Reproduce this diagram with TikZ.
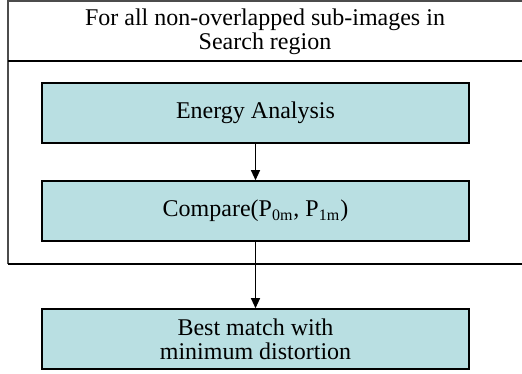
\documentclass[tikz,border=0pt]{standalone}
\usepackage{fontspec}
\setmainfont{Liberation Serif}
\usetikzlibrary{arrows.meta}
\definecolor{boxfill}{HTML}{B9DFE2}
\begin{document}
\begin{tikzpicture}[x=0.5pt,y=-0.5pt,
  txt/.style={font=\fontsize{12}{12.2}\selectfont, align=center},
  procbox/.style={draw=black, line width=0.8pt, fill=boxfill, minimum width=213.5pt, minimum height=30pt, inner sep=0pt, txt},
  frame/.style={line width=0.7pt},
  flow/.style={line width=0.6pt, -{Triangle[length=5pt,width=4.5pt]}}]
\useasboundingbox (0,0) rectangle (522,373);
\draw[frame, draw=black!70] (530,1) -- (8,1) -- (8,264);
\draw[frame] (8,264) -- (530,264);
\draw[frame] (8,61) -- (530,61);
\node[txt] (title) at (265,32) {For all non-overlapped sub-images in\\Search region};
\node[procbox] (energy) at (255.5,113) {Energy Analysis};
\node[procbox] (compare) at (255.5,211) {Compare(P\textsubscript{0m}, P\textsubscript{1m})};
\node[procbox] (best) at (255.5,339) {Best match with\\minimum distortion};
\draw[flow] (energy) -- (compare);
\draw[flow] (compare) -- (best);
\end{tikzpicture}
\end{document}
